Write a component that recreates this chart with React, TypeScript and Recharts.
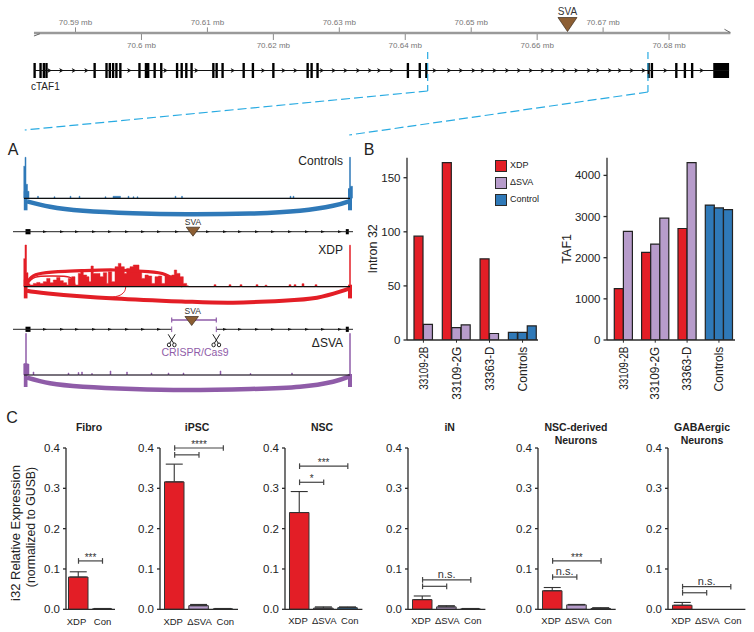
import React from 'react';
import {
  ComposedChart, BarChart, Bar, Cell, XAxis, YAxis, Line, Area, Scatter, ErrorBar,
  ReferenceLine, ReferenceArea,
} from 'recharts';

const FONT = '"Liberation Sans", Arial, sans-serif';
const RED = '#e31e26';
const LILAC = '#b79ccb';
const BLUE = '#2f79b8';
const PURPLE = '#8f5ca8';
const BROWN = '#8c5e33';
const INK = '#2b2b2b';

/* ---------- top genome track (positions in Mb) ---------- */
const rulerTicks = [70.59, 70.6, 70.61, 70.62, 70.63, 70.64, 70.65, 70.66, 70.67, 70.68];
const rulerLabels = ['70.59 mb', '70.6 mb', '70.61 mb', '70.62 mb', '70.63 mb', '70.64 mb', '70.65 mb', '70.66 mb', '70.67 mb', '70.68 mb'];
const exonCentres = [70.5838, 70.5847, 70.5852, 70.5856, 70.5929, 70.5947, 70.5952, 70.5957, 70.5962, 70.5968,
  70.5997, 70.602, 70.603, 70.6054, 70.6061, 70.6068, 70.6076, 70.6109, 70.6114, 70.6123, 70.6155, 70.6169,
  70.62, 70.6252, 70.6258, 70.6267, 70.6404, 70.6422, 70.6432, 70.6769, 70.6774, 70.6811, 70.6824, 70.6835];
const wideExons = [[70.6005, 70.6012], [70.6867, 70.6891]];
const geneArrows = [70.5861, 70.5879, 70.5898, 70.5917, 70.5982, 70.6037, 70.6084, 70.6139, 70.6185, 70.6216,
  70.6234, 70.6274, 70.6292, 70.631, 70.6329, 70.6347, 70.6361, 70.638, 70.6445, 70.6467, 70.6485, 70.6504,
  70.6518, 70.6536, 70.6555, 70.6573, 70.6591, 70.6609, 70.6624, 70.6642, 70.666, 70.6679, 70.6693, 70.6711,
  70.6726, 70.6744, 70.6762, 70.6795, 70.685];
const geneSpan = [70.5837, 70.6891];
const svaMb = 70.6646;
const zoomLeft = [[70.6434, 2.47], [70.6434, -2.73], [70.5823, -7.93]];
const zoomRight = [[70.6768, 2.47], [70.6768, -2.87], [70.6315, -8.6]];

/* ---------- panel A (position along intron, reads) ---------- */
const controlCoverage = [[23.5, 32], [25, 41], [26, 14], [27.5, 7], [29, 0], [37.5, 2], [38.5, 0], [54, 1.5], [55, 0], [70, 2], [71, 0], [79, 2], [80, 0], [105, 1.5], [106, 0], [113, 2], [120.5, 0], [128, 2], [129, 0], [133, 1.5], [134, 0], [137, 1.5], [138, 0], [175, 2], [176, 0], [181.5, 2], [182.5, 0], [290, 2], [291, 0], [293, 2], [294, 0], [347.5, 0], [349.5, 41], [350.5, 12], [352.5, 0]];
const xdpCoverage = [[23.5, 28], [25, 41.7], [26.5, 14], [28, 3], [30, 1.7], [33.3, 3.3], [36.7, 4.3], [40, 3.3], [43.3, 5], [46.7, 8.3], [50, 4], [53.3, 6.7], [56.7, 9.3], [60, 6], [63.3, 4], [66.7, 1.7], [68.3, 8.3], [71.7, 10], [75, 1.7], [78.3, 13.3], [80.7, 16.7], [83.3, 11.7], [86.7, 10], [89, 5], [91, 20.7], [93.3, 13.3], [96.7, 13.3], [100, 10], [103.3, 14], [106.7, 3.3], [108.3, 15], [111.7, 5], [115, 20], [118.3, 23.3], [121, 20], [124.3, 13.3], [126.7, 18.3], [130, 20], [133.3, 21.7], [136.7, 21.7], [139, 15], [141.7, 8.3], [145, 11.7], [148.3, 10.7], [151.7, 3.3], [155, 10], [158.3, 10.7], [161.7, 3.3], [165, 11.7], [168.3, 10.7], [171.7, 11.7], [174.3, 16.7], [176.7, 13.3], [180, 10], [183.3, 3.3], [186.7, 1], [188.3, 0], [214, 2], [216, 0], [229, 2], [231, 0], [240, 2], [242, 0], [256, 2], [258, 0], [265, 1.5], [267, 0], [289, 2], [291, 0], [294, 2], [296, 0], [302, 3], [304, 0], [315, 2], [317, 0], [347, 0], [349.5, 41.5], [350.5, 0]];
const dsvaCoverage = [[23.5, 11], [25.5, 41.5], [26.5, 11], [29, 0], [33, 3], [34, 0], [68, 2], [69, 0], [78, 2.5], [79, 0], [81.5, 3], [82.5, 0], [91.5, 1.5], [92.5, 0], [110, 4], [111, 0], [126.5, 3], [127.5, 0], [151, 2], [152, 0], [168, 2], [169, 0], [183, 2], [184, 0], [220, 4], [221, 0], [250, 1.5], [251, 0], [291.5, 2], [292.5, 0], [348, 0], [349.5, 41.5], [350.5, 0]];
const controlArc = [[27, -3], [50, -8.5], [83, -12.5], [133, -15], [187, -16], [250, -15.3], [300, -12.5], [333, -7.5], [349, -3]];
const xdpArc = [[27, -4], [48, -6.7], [115, -11.7], [188, -15], [233, -16], [283, -14], [317, -11], [340, -5], [349, -2]];
const xdpUpperArc = [[25, 0], [30, 8], [38.3, 12.7], [58, 15], [81.7, 16], [115, 16.7], [148, 15], [165, 12.3], [178, 5], [183, 0]];
const xdpInnerArc = [[26.7, 1.7], [35, 9.3], [51.7, 10.7], [70, 9.3], [75, 1.7]];
const xdpLowerBranch = [[106.7, -10.7], [118, -9.3], [124.3, -5], [125.7, 0]];
const dsvaArc = [[27, -2.7], [50, -8.3], [83, -11.7], [133, -14], [187, -15], [250, -14], [300, -11.7], [333, -6.7], [349, -1.7]];
const modelArrows1 = [45, 62, 77, 94, 110, 127, 143, 159, 177, 208, 225, 240, 257, 273, 290, 307, 323, 340];
const modelArrows2 = [45, 62, 77, 94, 110, 127, 143, 159, 225, 240, 257, 273, 290, 307, 323, 340];
const cutSites = [171.7, 216.3];

/* ---------- panel B ---------- */
const bSlots = ['s0', 's1', 'g0', 's3', 's4', 's5', 'g1', 's7', 's8', 'g2', 's10', 's11', 's12'];
const bKinds = ['xdp', 'dsva', '', 'xdp', 'dsva', 'dsva', '', 'xdp', 'dsva', '', 'ctl', 'ctl', 'ctl'];
const intronValues = [96, 14.5, null, 164, 11.5, 14, null, 75, 6, null, 7, 7, 13];
const taf1Values = [1250, 2640, null, 2130, 2330, 2960, null, 2710, 4310, null, 3280, 3210, 3170];
const bTickSlots = ['s0', 's4', 's7', 's11'];
const bTickLabels = ['33109-2B', '33109-2G', '33363-D', 'Controls'];
const bTickHalfShift = [true, false, true, false];
const bTickLengths = [43, 53, 44, 44.7];
const intronTicks = [0, 50, 100, 150];
const taf1Ticks = [0, 1000, 2000, 3000, 4000];
const legendNames = ['XDP', 'ΔSVA', 'Control'];
const legendColours = [RED, LILAC, BLUE];

/* ---------- panel C ---------- */
const threeGroups = ['XDP', 'ΔSVA', 'Con'];
const twoGroups = ['XDP', 'Con'];
const groupFill = { XDP: RED, 'ΔSVA': LILAC, Con: BLUE };
const fibroValues = [0.08, 0.001];
const fibroErrors = [0.013, 0.001];
const ipscValues = [0.316, 0.009, 0.001];
const ipscErrors = [0.044, 0.003, 0.001];
const nscValues = [0.24, 0.003, 0.004];
const nscErrors = [0.052, 0.003, 0.002];
const inValues = [0.024, 0.006, 0.001];
const inErrors = [0.009, 0.003, 0.001];
const nscnValues = [0.046, 0.011, 0.002];
const nscnErrors = [0.008, 0.001, 0.002];
const gabaValues = [0.01, 0, 0];
const gabaErrors = [0.007, 0, 0];
const fibroBrackets = [{ to: 'Con', y: 0.12, text: '***' }];
const ipscBrackets = [{ to: 'ΔSVA', y: 0.383, text: '' }, { to: 'Con', y: 0.4, text: '****' }];
const nscBrackets = [{ to: 'ΔSVA', y: 0.315, text: '*' }, { to: 'Con', y: 0.355, text: '***' }];
const inBrackets = [{ to: 'ΔSVA', y: 0.057, text: '' }, { to: 'Con', y: 0.073, text: 'n.s.' }];
const nscnBrackets = [{ to: 'ΔSVA', y: 0.08, text: 'n.s.' }, { to: 'Con', y: 0.12, text: '***' }];
const gabaBrackets = [{ to: 'ΔSVA', y: 0.041, text: '' }, { to: 'Con', y: 0.056, text: 'n.s.' }];
const cTicks = [0, 0.1, 0.2, 0.3, 0.4];
const labelShiftThree = [-1.5, 0.5, 2];
const labelShiftTwo = [-2, 0];

/* ---------- small helpers ---------- */
const toCoverage = (rows) => rows.map(([pos, reads]) => ({ pos, reads }));
const toArc = (rows) => rows.map(([pos, depth]) => ({ pos, depth }));
const toPoints = (values) => values.map((pos) => ({ pos, row: 0 }));

const triangle = (cx, cy, w, h) => (
  <polygon points={`${cx - w / 2},${cy - h / 2} ${cx + w / 2},${cy - h / 2} ${cx},${cy + h / 2}`} fill={BROWN} stroke="#3a2a1a" strokeWidth={0.7} />
);
const ArrowHead = ({ cx, cy }) => <path d={`M${cx - 2.5},${cy - 2.5} L${cx + 2},${cy} L${cx - 2.5},${cy + 2.5} L${cx - 1.2},${cy} Z`} fill="#111" />;

/* ---------- top ---------- */
function GenomeTrack() {
  return (
    <ComposedChart width={754} height={140} margin={{ top: 0, right: 0, bottom: 0, left: 0 }}>
      <XAxis type="number" dataKey="pos" hide domain={[70.57855, 70.69288]} allowDataOverflow />
      <YAxis type="number" dataKey="row" hide domain={[-9.267, 9.4]} allowDataOverflow />
      {rulerTicks.map((t, i) => {
        const up = i % 2 === 0;
        return (
          <ReferenceLine key={t} segment={[{ x: t, y: 5 }, { x: t, y: up ? 5.75 : 4.07 }]} stroke="#8a8a8a" strokeWidth={1}
            label={{ value: rulerLabels[i], position: up ? 'top' : 'bottom', offset: up ? 2.5 : 2, fontSize: 8, fill: '#777', fontFamily: FONT }} />
        );
      })}
      <ReferenceLine segment={[{ x: 70.5837, y: 5 }, { x: 70.6893, y: 5 }]} stroke="#9a9a9a" strokeWidth={2.4} />
      <ReferenceLine segment={[{ x: 70.5837, y: 4.6 }, { x: 70.5846, y: 4.9 }]} stroke="#666" strokeWidth={1} />
      <ReferenceLine segment={[{ x: 70.6893, y: 5.05 }, { x: 70.6884, y: 5.5 }]} stroke="#666" strokeWidth={1} />
      <ReferenceLine segment={[{ x: geneSpan[0], y: 0 }, { x: geneSpan[1], y: 0 }]} stroke="#111" strokeWidth={1.2} />
      {exonCentres.map((c) => (
        <ReferenceArea key={c} x1={c - 0.00018} x2={c + 0.00018} y1={-1} y2={1} fill="#000" fillOpacity={1} stroke="none" />
      ))}
      {wideExons.map(([a, b]) => (
        <ReferenceArea key={a} x1={a} x2={b} y1={-1} y2={1} fill="#000" fillOpacity={1} stroke="none" />
      ))}
      <Scatter data={toPoints(geneArrows)} shape={ArrowHead} isAnimationActive={false} />
      <Scatter data={[{ pos: svaMb, row: 6.13 }]} isAnimationActive={false} shape={({ cx, cy }) => (
        <g>
          {triangle(cx, cy, 19, 14)}
          <text x={cx} y={cy - 10} textAnchor="middle" fontSize={10} fill="#333" fontFamily={FONT}>SVA</text>
        </g>
      )} />
      <ReferenceLine segment={zoomLeft.slice(0, 2).map(([x, y]) => ({ x, y }))} stroke="#29abe2" strokeWidth={1.2} strokeDasharray="7 4" />
      <ReferenceLine segment={zoomLeft.slice(1).map(([x, y]) => ({ x, y }))} stroke="#29abe2" strokeWidth={1.2} strokeDasharray="9 4" />
      <ReferenceLine segment={zoomRight.slice(0, 2).map(([x, y]) => ({ x, y }))} stroke="#29abe2" strokeWidth={1.2} strokeDasharray="7 4" />
      <ReferenceLine segment={zoomRight.slice(1).map(([x, y]) => ({ x, y }))} stroke="#29abe2" strokeWidth={1.2} strokeDasharray="9 4" />
    </ComposedChart>
  );
}

/* ---------- panel A ---------- */
function Sashimi({ top, below, above, coverage, colour, arcs, leftUp, rightUp, down }) {
  return (
    <div style={{ position: 'absolute', left: 0, top }}>
      <ComposedChart width={370} height={above + below} margin={{ top: 0, right: 0, bottom: 0, left: 0 }}>
        <XAxis type="number" dataKey="pos" hide domain={[0, 370]} allowDataOverflow />
        <YAxis type="number" hide domain={[-below, above]} allowDataOverflow />
        <Area data={toCoverage(coverage)} dataKey="reads" type="stepAfter" baseValue={0} stroke={colour} strokeWidth={0.5} fill={colour} fillOpacity={1} dot={false} isAnimationActive={false} />
        <ReferenceArea x1={23.8} x2={27.5} y1={-down} y2={leftUp} fill={colour} fillOpacity={1} stroke="none" />
        <ReferenceArea x1={348} x2={352} y1={-down} y2={rightUp} fill={colour} fillOpacity={1} stroke="none" />
        {arcs.map((a, i) => (
          <Line key={i} data={toArc(a.rows)} dataKey="depth" type="natural" stroke={colour} strokeWidth={a.width} dot={false} activeDot={false} isAnimationActive={false} />
        ))}
        <ReferenceLine segment={[{ x: 24, y: 0 }, { x: 350, y: 0 }]} stroke="#111" strokeWidth={1.2} />
      </ComposedChart>
    </div>
  );
}

const Scissors = ({ cx, cy }) => (
  <g stroke="#222" strokeWidth={1} fill="none">
    <line x1={cx - 3.5} y1={cy - 6} x2={cx + 2} y2={cy + 3} />
    <line x1={cx + 3.5} y1={cy - 6} x2={cx - 2} y2={cy + 3} />
    <ellipse cx={cx - 2.7} cy={cy + 4.6} rx={1.7} ry={1.9} />
    <ellipse cx={cx + 2.7} cy={cy + 4.6} rx={1.7} ry={1.9} />
  </g>
);

function GeneModel({ top, below, above, arrows, cut }) {
  const segs = cut ? [[13, cutSites[0]], [cutSites[1], 353]] : [[13, 353]];
  return (
    <div style={{ position: 'absolute', left: 0, top }}>
      <ComposedChart width={370} height={above + below} margin={{ top: 0, right: 0, bottom: 0, left: 0 }}>
        <XAxis type="number" dataKey="pos" hide domain={[0, 370]} allowDataOverflow />
        <YAxis type="number" dataKey="row" hide domain={[-below, above]} allowDataOverflow />
        {segs.map(([a, b]) => (
          <ReferenceLine key={a} segment={[{ x: a, y: 0 }, { x: b, y: 0 }]} stroke="#222" strokeWidth={1} />
        ))}
        <ReferenceArea x1={25.5} x2={30.5} y1={-2.6} y2={2.6} fill="#000" fillOpacity={1} stroke="none" />
        <ReferenceArea x1={345.8} x2={348.8} y1={-2.6} y2={2.6} fill="#000" fillOpacity={1} stroke="none" />
        <Scatter data={toPoints(arrows)} isAnimationActive={false} shape={({ cx, cy }) => (
          <path d={`M${cx - 2},${cy - 1.4} L${cx + 2},${cy} L${cx - 2},${cy + 1.4} Z`} fill="#111" />
        )} />
        {cut && (
          <>
            <ReferenceLine segment={[{ x: cutSites[0], y: 9.3 }, { x: cutSites[1], y: 9.3 }]} stroke={PURPLE} strokeWidth={1.4} />
            {cutSites.map((x) => (
              <React.Fragment key={x}>
                <ReferenceLine segment={[{ x, y: 6.8 }, { x, y: 11.8 }]} stroke={PURPLE} strokeWidth={1.2} />
                <ReferenceLine segment={[{ x, y: -2.8 }, { x, y: 2.8 }]} stroke={PURPLE} strokeWidth={1} />
              </React.Fragment>
            ))}
            <Scatter data={cutSites.map((pos) => ({ pos, row: -11 }))} isAnimationActive={false} shape={Scissors} />
            <Scatter data={[{ pos: 195, row: -22.4 }]} isAnimationActive={false} shape={({ cx, cy }) => (
              <text x={cx} y={cy} textAnchor="middle" dominantBaseline="central" fontSize={10.5} fill={PURPLE} fontFamily={FONT}>CRISPR/Cas9</text>
            )} />
          </>
        )}
        <Scatter data={[{ pos: cut ? 191.7 : 193, row: cut ? 8.3 : 0 }]} isAnimationActive={false} shape={({ cx, cy }) => (
          <g>
            {triangle(cx, cy, 13.5, 9)}
            <text x={cx + (cut ? 1 : 0)} y={cy - 7} textAnchor="middle" fontSize={8.5} fill="#333" fontFamily={FONT}>SVA</text>
          </g>
        )} />
      </ComposedChart>
    </div>
  );
}

/* ---------- panel B ---------- */
const B_AXIS_Y = 189.7;
function SlotTick({ x, payload, halfSlot }) {
  const i = bTickSlots.indexOf(payload.value);
  if (i < 0) return null;
  const px = x + (bTickHalfShift[i] ? halfSlot : 0);
  return (
    <g>
      <line x1={px} x2={px} y1={B_AXIS_Y} y2={B_AXIS_Y + 3} stroke={INK} strokeWidth={1} />
      <text transform={`translate(${px},${B_AXIS_Y + 7}) rotate(-90)`} textAnchor="end" dy="0.35em" fontSize={12} fill="#222" fontFamily={FONT}
        textLength={bTickLengths[i]} lengthAdjust="spacingAndGlyphs">{bTickLabels[i]}</text>
    </g>
  );
}

function BPanel({ left, width, values, domain, ticks, padding, label, labelOffset, halfSlot }) {
  const rows = bSlots.map((slot, i) => ({ slot, value: values[i], kind: bKinds[i] }));
  const fill = { xdp: RED, dsva: LILAC, ctl: BLUE };
  return (
    <div style={{ position: 'absolute', left, top: 150 }}>
      <BarChart width={width} height={255} data={rows} barCategoryGap={0} margin={{ top: 7.7, right: 0, bottom: 0, left: 0 }}>
        <XAxis dataKey="slot" height={65} ticks={bTickSlots} interval={0} padding={padding} stroke={INK} strokeWidth={1.3} tickLine={false}
          tick={(p) => <SlotTick {...p} halfSlot={halfSlot} />} />
        <YAxis width={47} domain={domain} ticks={ticks} interval={0} tickSize={3.5} tickMargin={3} stroke={INK} strokeWidth={1.3}
          tick={{ fontSize: 11.5, fill: '#222', fontFamily: FONT }} allowDataOverflow
          label={{ value: label, angle: -90, position: 'insideLeft', offset: labelOffset, style: { textAnchor: 'middle', fontSize: 12.5, fill: '#222', fontFamily: FONT } }} />
        <Bar dataKey="value" stroke="#222" strokeWidth={1.2} isAnimationActive={false}>
          {rows.map((r) => <Cell key={r.slot} fill={fill[r.kind] || 'none'} />)}
        </Bar>
      </BarChart>
    </div>
  );
}

/* ---------- panel C ---------- */
const C_WIDTH_Y = 40;
const C_LABEL_Y = 193;
function GroupTick({ x, index, shifts, payload }) {
  return (
    <text x={x + shifts[index]} y={C_LABEL_Y} textAnchor="middle" dominantBaseline="central" fontSize={9.5} fill="#222" fontFamily={FONT}>{payload.value}</text>
  );
}

function ExpressionChart({ axisX, plotWidth, groups, values, errors, brackets, pad }) {
  const rows = groups.map((g, i) => ({ group: g, value: values[i], err: [0, errors[i]] }));
  const shifts = groups.length === 2 ? labelShiftTwo : labelShiftThree;
  return (
    <div style={{ position: 'absolute', left: axisX - C_WIDTH_Y, top: 427.7 }}>
      <BarChart width={C_WIDTH_Y + plotWidth} height={204} data={rows} barCategoryGap={0} margin={{ top: 20, right: 0, bottom: 0, left: 0 }}>
        <XAxis dataKey="group" height={22.7} interval={0} padding={{ left: pad, right: pad }} stroke={INK} strokeWidth={1.3} tickLine={false}
          tick={(p) => <GroupTick {...p} shifts={shifts} />} />
        <YAxis width={C_WIDTH_Y} domain={[0, 0.4]} ticks={cTicks} interval={0} tickSize={3} tickMargin={3} stroke={INK} strokeWidth={1.3}
          tickFormatter={(v) => v.toFixed(1)} tick={{ fontSize: 11.5, fill: '#222', fontFamily: FONT }} />
        <Bar dataKey="value" barSize={19.5} stroke="#333" strokeWidth={1} isAnimationActive={false}>
          {rows.map((r) => <Cell key={r.group} fill={groupFill[r.group]} />)}
          <ErrorBar dataKey="err" direction="y" width={8.5} stroke="#333" strokeWidth={1.1} isAnimationActive={false} />
        </Bar>
        {brackets.map((b) => (
          <React.Fragment key={b.y}>
            <ReferenceLine ifOverflow="visible" segment={[{ x: 'XDP', y: b.y }, { x: b.to, y: b.y }]} stroke="#444" strokeWidth={1.2}
              label={b.text ? { value: b.text, position: 'top', offset: b.text === 'n.s.' ? 2 : 0, fontSize: b.text === 'n.s.' ? 11 : 10, fill: '#333', fontFamily: FONT } : undefined} />
            <ReferenceLine ifOverflow="visible" segment={[{ x: 'XDP', y: b.y - 0.007 }, { x: 'XDP', y: b.y + 0.007 }]} stroke="#444" strokeWidth={1.2} />
            <ReferenceLine ifOverflow="visible" segment={[{ x: b.to, y: b.y - 0.007 }, { x: b.to, y: b.y + 0.007 }]} stroke="#444" strokeWidth={1.2} />
          </React.Fragment>
        ))}
      </BarChart>
    </div>
  );
}

const txt = { position: 'absolute', fontFamily: FONT, color: '#222', whiteSpace: 'nowrap', lineHeight: 1 };
const Center = ({ x, y, size = 11, bold, children, color }) => (
  <div style={{ ...txt, left: x, top: y, fontSize: size, fontWeight: bold ? 700 : 400, color: color || '#222', transform: 'translate(-50%,-50%)', textAlign: 'center' }}>{children}</div>
);
const RightText = ({ x, y, size = 12, children }) => (
  <div style={{ ...txt, left: x, top: y, fontSize: size, transform: 'translate(-100%,-50%)' }}>{children}</div>
);
const Vertical = ({ x, y, size = 12.5, children }) => (
  <div style={{ ...txt, left: x, top: y, fontSize: size, transform: 'translate(-50%,-50%) rotate(-90deg)' }}>{children}</div>
);

export default function App() {
  return (
    <div style={{ position: 'fixed', left: 0, top: 0, width: 754, height: 632, background: '#fff', overflow: 'hidden' }}>
      <style>{'body{margin:0}'}</style>
      <div style={{ position: 'absolute', left: 0, top: 0 }}><GenomeTrack /></div>
      <div style={{ ...txt, left: 31, top: 82, fontSize: 10 }}>cTAF1</div>

      <Center x={13} y={150} size={16}>A</Center>
      <Center x={369} y={150} size={16}>B</Center>
      <Center x={12} y={418} size={16}>C</Center>

      <Sashimi top={150} above={48.3} below={21.7} coverage={controlCoverage} colour={BLUE} leftUp={7} rightUp={10} down={12}
        arcs={[{ rows: controlArc, width: 4.5 }]} />
      <GeneModel top={215} above={16.7} below={13.3} arrows={modelArrows1} />
      <Sashimi top={240} above={46.7} below={23.3} coverage={xdpCoverage} colour={RED} leftUp={7} rightUp={2} down={11.7}
        arcs={[{ rows: xdpArc, width: 4 }, { rows: xdpUpperArc, width: 3.2 }, { rows: xdpInnerArc, width: 1.3 }, { rows: xdpLowerBranch, width: 1 }]} />
      <GeneModel top={305} above={24.3} below={30.7} arrows={modelArrows2} cut />
      <Sashimi top={328} above={47} below={23} coverage={dsvaCoverage} colour={PURPLE} leftUp={11.7} rightUp={1} down={12}
        arcs={[{ rows: dsvaArc, width: 4.5 }]} />
      <RightText x={343} y={161}>Controls</RightText>
      <RightText x={343} y={250}>XDP</RightText>
      <RightText x={343} y={343}>ΔSVA</RightText>

      <BPanel left={360} width={178} values={intronValues} domain={[0, 168.5]} ticks={intronTicks} padding={{ left: 7, right: 1.3 }} label="Intron 32" labelOffset={13} halfSlot={4.7} />
      <BPanel left={559.7} width={175.3} values={taf1Values} domain={[0, 4430]} ticks={taf1Ticks} padding={{ left: 7.3, right: 2.7 }} label="TAF1" labelOffset={7} halfSlot={4.55} />
      {legendNames.map((name, i) => (
        <React.Fragment key={name}>
          <div style={{ position: 'absolute', left: 495, top: 160 + i * 17, width: 9.8, height: 9.8, background: legendColours[i], border: '1px solid #2a2a2a' }} />
          <div style={{ ...txt, left: 510, top: 161 + i * 17, fontSize: 9 }}>{name}</div>
        </React.Fragment>
      ))}

      <ExpressionChart axisX={66} plotWidth={49} groups={twoGroups} values={fibroValues} errors={fibroErrors} brackets={fibroBrackets} pad={0.5} />
      <ExpressionChart axisX={160.3} plotWidth={78} groups={threeGroups} values={ipscValues} errors={ipscErrors} brackets={ipscBrackets} pad={2.5} />
      <ExpressionChart axisX={285.3} plotWidth={77.4} groups={threeGroups} values={nscValues} errors={nscErrors} brackets={nscBrackets} pad={2.5} />
      <ExpressionChart axisX={408.3} plotWidth={77.4} groups={threeGroups} values={inValues} errors={inErrors} brackets={inBrackets} pad={2.5} />
      <ExpressionChart axisX={538} plotWidth={77.7} groups={threeGroups} values={nscnValues} errors={nscnErrors} brackets={nscnBrackets} pad={2.5} />
      <ExpressionChart axisX={668.3} plotWidth={77.4} groups={threeGroups} values={gabaValues} errors={gabaErrors} brackets={gabaBrackets} pad={2.5} />

      <Center x={89} y={427} size={10.5} bold>Fibro</Center>
      <Center x={197} y={427} size={10.5} bold>iPSC</Center>
      <Center x={322} y={427} size={10.5} bold>NSC</Center>
      <Center x={449.7} y={427} size={10.5} bold>iN</Center>
      <Center x={576} y={433.5} size={10.5} bold><div style={{ lineHeight: '13px' }}>NSC-derived<br />Neurons</div></Center>
      <Center x={702} y={433.5} size={10.5} bold><div style={{ lineHeight: '13px' }}>GABAergic<br />Neurons</div></Center>
      <Vertical x={15} y={533} size={13}>i32 Relative Expression</Vertical>
      <Vertical x={31} y={527} size={12.3}>(normalized to GUSB)</Vertical>
    </div>
  );
}
